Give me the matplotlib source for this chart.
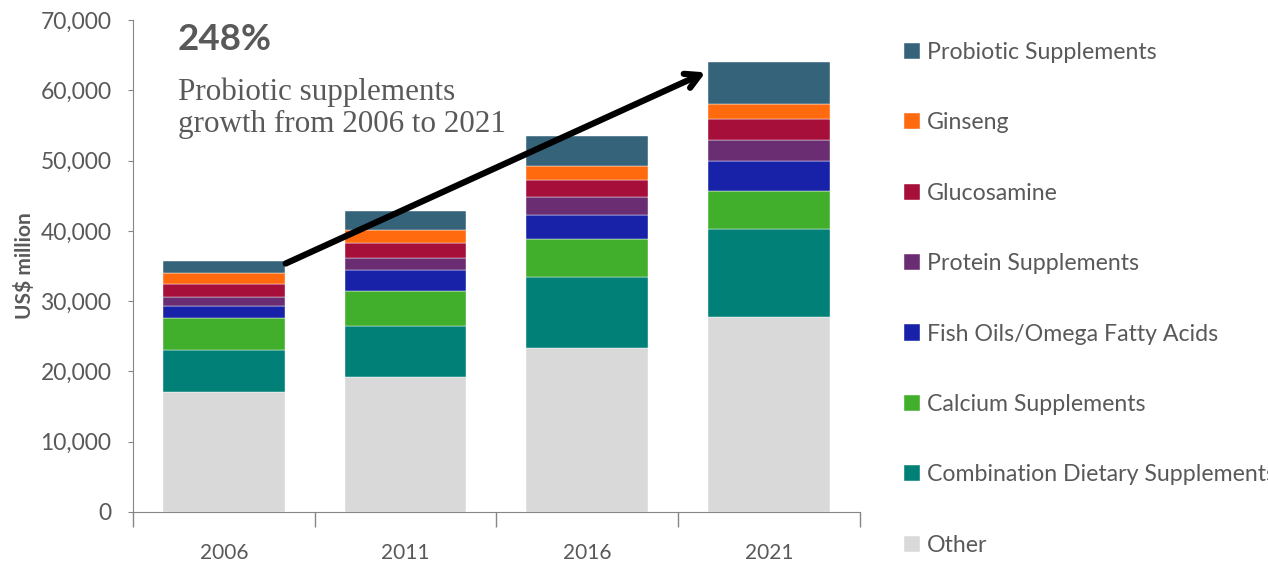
import matplotlib
matplotlib.use("Agg")
import matplotlib.pyplot as plt
import numpy as np

# data (US$ million)
years = ["2006", "2011", "2016", "2021"]
other = [17100, 19250, 23400, 27700]
combination = [5950, 7200, 10100, 12500]
calcium = [4500, 5050, 5300, 5500]
fish_oils = [1800, 2870, 3450, 4270]
protein = [1200, 1800, 2600, 2950]
glucosamine = [1900, 2050, 2350, 2950]
ginseng = [1600, 1900, 2050, 2180]
probiotic = [1700, 2750, 4300, 6000]

series = [
    ("Other", other, "#d9d9d9"),
    ("Combination Dietary Supplements", combination, "#008076"),
    ("Calcium Supplements", calcium, "#41af2c"),
    ("Fish Oils/Omega Fatty Acids", fish_oils, "#1822a8"),
    ("Protein Supplements", protein, "#6a2d72"),
    ("Glucosamine", glucosamine, "#a50f3a"),
    ("Ginseng", ginseng, "#ff6a0e"),
    ("Probiotic Supplements", probiotic, "#35647a"),
]

grey = "#595959"
plt.rcParams['font.family'] = ['Lato', 'DejaVu Sans']

fig = plt.figure(figsize=(12.68, 5.63), dpi=100)
ax = fig.add_axes([0.1049, 0.0906, 0.5733, 0.8739])

x = np.arange(len(years))
bottom = np.zeros(len(years))
handles = []
for name, vals, col in series:
    b = ax.bar(x, vals, width=0.67, bottom=bottom, color=col, label=name,
               edgecolor="#ffffff", linewidth=0.3)
    bottom += np.array(vals)
    handles.append(b)

ax.set_xlim(-0.5, 3.5)
ax.set_ylim(0, 70000)
ax.set_yticks(np.arange(0, 70001, 10000))
ax.set_yticklabels([f"{v:,}" for v in range(0, 70001, 10000)])
ax.set_xticks(x)
ax.set_xticklabels(years)
ax.set_xticks(np.arange(-0.5, 3.6, 1), minor=True)
ax.tick_params(axis='x', which='major', length=0, pad=22, labelsize=15, labelcolor=grey)
ax.tick_params(axis='x', which='minor', length=11, color="#868686", width=1)
ax.tick_params(axis='y', length=3.5, color="#868686", labelsize=16.5, labelcolor=grey, pad=12)
for s in ["top", "right"]:
    ax.spines[s].set_visible(False)
for s in ["left", "bottom"]:
    ax.spines[s].set_color("#868686")
ax.set_ylabel("US$ million", fontsize=15, fontweight="bold", color=grey, labelpad=4)

# growth arrow from 2006 total to 2021 total
totals = bottom
ax.annotate("", xy=(3 - 0.35, totals[3] - 1500), xytext=(0.34, totals[0] - 400),
            arrowprops=dict(arrowstyle="->,head_length=1.0,head_width=0.55",
                            color="black", lw=4.5, shrinkA=0, shrinkB=0))

fig.text(178 / 1268, 1 - 50 / 563, "248%", fontsize=26.5, fontweight="bold",
         color=grey, ha="left", va="baseline")
fig.text(178 / 1268, 1 - 132 / 563, "Probiotic supplements\ngrowth from 2006 to 2021",
         fontsize=22.4, family=["Liberation Serif", "DejaVu Serif"], color=grey,
         ha="left", va="baseline", linespacing=1.12)

leg = fig.legend(handles[::-1], [s[0] for s in series][::-1],
                 loc="upper left", bbox_to_anchor=(904 / 1268, 1 - 42 / 563),
                 frameon=False, fontsize=16.7, labelcolor=grey,
                 handlelength=0.7, handleheight=0.7, handletextpad=0.3,
                 labelspacing=2.13, borderaxespad=0, borderpad=0)

fig.savefig("out.png", dpi=100)
